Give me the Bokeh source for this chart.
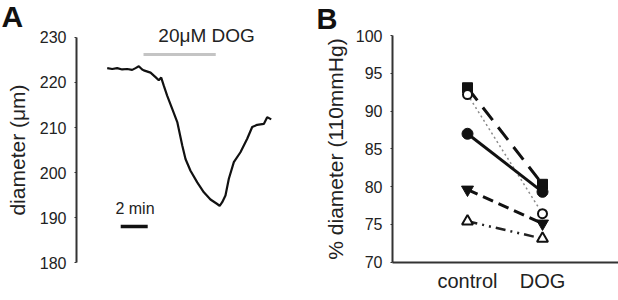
from bokeh.plotting import figure
from bokeh.layouts import row
from bokeh.models import Range1d, FixedTicker, Label
from bokeh.core.properties import value
from bokeh.embed import file_html
from bokeh.resources import INLINE

# ---------------- data ----------------
# Panel A: diameter trace (time in min, diameter in um)
trace_t = [0.0, 0.37, 0.74, 1.11, 1.48, 1.85, 2.1, 2.34, 2.59, 2.71, 3.21, 3.58, 3.82, 4.0,
           4.19, 4.44, 4.81, 5.19, 5.56, 5.80, 6.17, 6.67, 7.16, 7.65, 8.15, 8.33, 8.52,
           8.76, 9.01, 9.38, 9.87, 10.37, 10.74, 11.11, 11.6, 11.85, 12.15]
trace_d = [223.2, 223.0, 223.2, 222.9, 223.0, 222.8, 223.2, 223.6, 222.9, 222.7, 222.2, 221.2,
           220.5, 221.1, 219.3, 217.1, 214.2, 211.2, 206.0, 203.0, 200.4, 197.8, 195.6,
           194.0, 193.0, 192.6, 193.4, 194.9, 198.6, 202.3, 204.5, 207.5, 210.1, 210.6,
           210.8, 212.3, 211.8]
dog_window = [2.69, 8.04]      # min, application of 20 uM DOG
dog_bar_level = 226.2
scale_bar = [1.0, 3.0]         # 2 min
scale_bar_level = 188.0
a_ticks = [180, 190, 200, 210, 220, 230]

# Panel B: % diameter at 110 mmHg
categories = ["control", "DOG"]
cat_x = [1, 2]
b_square = [93.1, 80.3]
b_open_circle = [92.2, 76.4]
b_circle = [87.0, 79.3]
b_down_tri = [79.6, 75.1]
b_open_tri = [75.4, 73.1]
b_ticks = [70, 75, 80, 85, 90, 95, 100]

FONT = "Liberation Sans"
TXT = "#222222"


def style_axis(ax, size):
    ax.axis_line_color = "#333333"
    ax.axis_line_width = 2
    ax.major_tick_in = 0
    ax.minor_tick_out = 0
    ax.minor_tick_in = 0
    ax.major_tick_line_color = "#333333"
    ax.major_label_text_font = FONT
    ax.major_label_text_color = TXT
    ax.major_label_text_font_size = size


# ---------------- Panel A ----------------
pa = figure(width=310, height=300, output_backend="svg", toolbar_location=None,
            x_range=Range1d(-7.904, 15.059), y_range=Range1d(171.556, 238.222),
            min_border=0)
pa.outline_line_color = None
pa.grid.visible = False
pa.xaxis.visible = False
ya = pa.yaxis[0]
style_axis(ya, "16px")
ya.fixed_location = -2.274
ya.ticker = FixedTicker(ticks=a_ticks)
ya.bounds = (180, 230)
ya.major_tick_out = 2
ya.major_label_standoff = 8
ya.axis_label = "diameter (μm)"
ya.axis_label_text_font = FONT
ya.axis_label_text_font_size = "21px"
ya.axis_label_text_font_style = "normal"
ya.axis_label_text_color = TXT
ya.axis_label_standoff = 8

pa.line(x=dog_window, y=[dog_bar_level, dog_bar_level], line_color="#c4c4c4", line_width=3)
pa.line(x=trace_t, y=trace_d, line_color="#111111", line_width=2.2)
pa.line(x=scale_bar, y=[scale_bar_level, scale_bar_level], line_color="#111111", line_width=3.5)
pa.text(x=[7.36], y=[230.44], text=["20μM DOG"], text_font=value(FONT),
        text_font_size=value("19px"), text_color=TXT, text_align="center",
        text_baseline="middle")
pa.text(x=[2.06], y=[192.0], text=["2 min"], text_font=value(FONT),
        text_font_size=value("16px"), text_color=TXT, text_align="center",
        text_baseline="middle")
pa.add_layout(Label(x=-7.83, y=234.67, text="A", text_font=FONT, text_font_size="30px",
                    text_font_style="bold", text_color="#111111", text_align="left",
                    text_baseline="middle"))

# ---------------- Panel B ----------------
pb = figure(width=308, height=300, output_backend="svg", toolbar_location=None,
            x_range=Range1d(-1.0933, 3.0133), y_range=Range1d(64.896, 104.668),
            min_border=0)
pb.outline_line_color = None
pb.grid.visible = False
yb = pb.yaxis[0]
xb = pb.xaxis[0]
style_axis(yb, "16px")
style_axis(xb, "20px")
yb.fixed_location = 0.0
yb.ticker = FixedTicker(ticks=b_ticks)
yb.bounds = (70, 100)
yb.major_tick_out = 2
yb.major_label_standoff = 8
yb.axis_label = "% diameter (110mmHg)"
yb.axis_label_text_font = FONT
yb.axis_label_text_font_size = "21px"
yb.axis_label_text_font_style = "normal"
yb.axis_label_text_color = TXT
yb.axis_label_standoff = 6
xb.fixed_location = 70.0
xb.ticker = FixedTicker(ticks=cat_x)
xb.bounds = (0.0, 3.01)
xb.major_label_overrides = {cx: c for cx, c in zip(cat_x, categories)}
xb.major_tick_out = 0
xb.major_label_standoff = 8

pb.line(x=cat_x, y=b_open_circle, line_color="#8a8a8a", line_width=1.5, line_dash="2 3")
pb.line(x=cat_x, y=b_open_tri, line_color="#222222", line_width=2.5, line_dash="10 5 2 5 2 5")
pb.line(x=cat_x, y=b_down_tri, line_color="#111111", line_width=3, line_dash="11 6")
pb.line(x=cat_x, y=b_square, line_color="#111111", line_width=3, line_dash="16 9")
pb.line(x=cat_x, y=b_circle, line_color="#111111", line_width=3)

pb.scatter(x=cat_x, y=b_square, marker="square", size=10, fill_color="#111111", line_color="#111111")
pb.scatter(x=cat_x, y=b_circle, marker="circle", size=11, fill_color="#111111", line_color="#111111")
pb.scatter(x=cat_x, y=b_open_circle, marker="circle", size=9, fill_color="white",
           line_color="#111111", line_width=2)
pb.scatter(x=cat_x, y=b_down_tri, marker="inverted_triangle", size=12, fill_color="#111111",
           line_color="#111111")
pb.scatter(x=cat_x, y=b_open_tri, marker="triangle", size=11, fill_color="white",
           line_color="#111111", line_width=2)
pb.add_layout(Label(x=-1.013, y=102.28, text="B", text_font=FONT, text_font_size="29px",
                    text_font_style="bold", text_color="#111111", text_align="left",
                    text_baseline="middle"))

layout = row(pa, pb)
open("out.html", "w").write(file_html(layout, INLINE))
